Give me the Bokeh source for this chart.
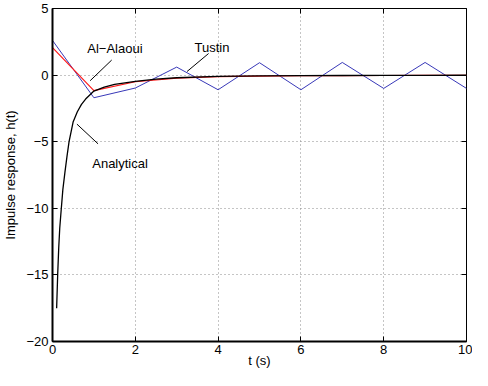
from bokeh.plotting import figure
from bokeh.models import Range1d, FixedTicker, LinearAxis, ColumnDataSource
from bokeh.core.properties import value
from bokeh.embed import file_html
from bokeh.resources import INLINE

# discrete-time samples
t_disc = [0, 1, 2, 3, 4, 5, 6, 7, 8, 9, 10]
tustin = [2.6, -1.7, -0.97, 0.6, -1.1, 0.93, -1.1, 0.95, -1.0, 0.95, -1.0]
alaoui = [2.06, -1.16, -0.5, -0.22, -0.12, -0.07, -0.05, -0.04, -0.03, -0.02, -0.02]

# analytical curve
t_an = [0.1, 0.125, 0.15, 0.175, 0.2, 0.25, 0.3, 0.35, 0.4, 0.5, 0.6, 0.7, 0.8, 0.9,
        1.0, 1.25, 1.5, 2, 2.5, 3, 4, 5, 6, 7, 8, 9, 10]
h_an = [-17.5, -15, -13, -11.5, -10.5, -8.6, -7.3, -6.1, -5.0, -3.5, -2.75, -2.2, -1.8,
        -1.5, -1.2, -0.9, -0.7, -0.47, -0.3, -0.2, -0.1, -0.06, -0.04, -0.03, -0.02,
        -0.015, -0.01]

x_ticks = [0, 2, 4, 6, 8, 10]
y_ticks = [-20, -15, -10, -5, 0, 5]

# annotations: label text, label anchor, pointer line
ann_text = ["Al\u2212Alaoui", "Tustin", "Analytical"]
ann_tx = [0.84, 3.43, 0.96]
ann_ty = [1.97, 2.04, -6.65]
ann_x0 = [1.43, 3.77, 1.10]
ann_y0 = [1.13, 1.62, -5.16]
ann_x1 = [0.91, 3.25, 0.59]
ann_y1 = [-0.42, 0.27, -3.68]

FONT = "Liberation Sans"

p = figure(width=472, height=370, output_backend="svg", toolbar_location=None,
           x_range=Range1d(0, 10), y_range=Range1d(-20, 5),
           min_border_left=44, min_border_right=6, min_border_top=8, min_border_bottom=26)
p.background_fill_color = "white"
p.border_fill_color = "white"
p.outline_line_color = "black"
p.outline_line_width = 1
p.outline_line_alpha = 1

for ax, ticks in ((p.xaxis[0], x_ticks), (p.yaxis[0], y_ticks)):
    ax.ticker = FixedTicker(ticks=ticks)
    ax.major_tick_in = 5
    ax.major_tick_out = 0
    ax.minor_tick_line_color = None
    ax.axis_line_width = 2
    ax.major_label_text_font = FONT
    ax.major_label_text_font_size = "13px"
    ax.major_label_text_color = "black"
    ax.axis_label_text_font = FONT
    ax.axis_label_text_font_size = "13px"
    ax.axis_label_text_font_style = "normal"
    ax.axis_label_text_color = "black"

p.xaxis[0].axis_label = "t (s)"
p.xaxis[0].major_label_standoff = 3
p.xaxis[0].axis_label_standoff = -4
p.yaxis[0].axis_label = "Impulse response, h(t)"
p.yaxis[0].major_label_standoff = 4
p.yaxis[0].axis_label_standoff = 5

for loc, ticks in (("right", y_ticks), ("above", x_ticks)):
    ax = LinearAxis(ticker=FixedTicker(ticks=ticks))
    ax.major_tick_in = 5
    ax.major_tick_out = 0
    ax.minor_tick_line_color = None
    ax.axis_line_color = None
    ax.major_label_overrides = {t: "" for t in ticks}
    ax.major_label_standoff = 0
    p.add_layout(ax, loc)

p.xgrid.ticker = FixedTicker(ticks=x_ticks)
p.ygrid.ticker = FixedTicker(ticks=y_ticks)
for g in (p.xgrid[0], p.ygrid[0]):
    g.grid_line_color = "#8a8a8a"
    g.grid_line_dash = "1 3"
    g.grid_line_width = 1

p.line(t_disc, tustin, line_color="#3838b8", line_width=1)
p.line(t_disc, alaoui, line_color="#ff1a1a", line_width=1.2)
p.line(t_an, h_an, line_color="black", line_width=1.3)

p.segment(x0=ann_x0, y0=ann_y0, x1=ann_x1, y1=ann_y1, line_color="black", line_width=1)
src = ColumnDataSource(dict(x=ann_tx, y=ann_ty, t=ann_text))
p.text(x="x", y="y", text="t", source=src, text_font=value(FONT),
       text_font_size="13px", text_color="black", text_baseline="alphabetic",
       text_align="left")

open("out.html", "w").write(file_html(p, INLINE))
